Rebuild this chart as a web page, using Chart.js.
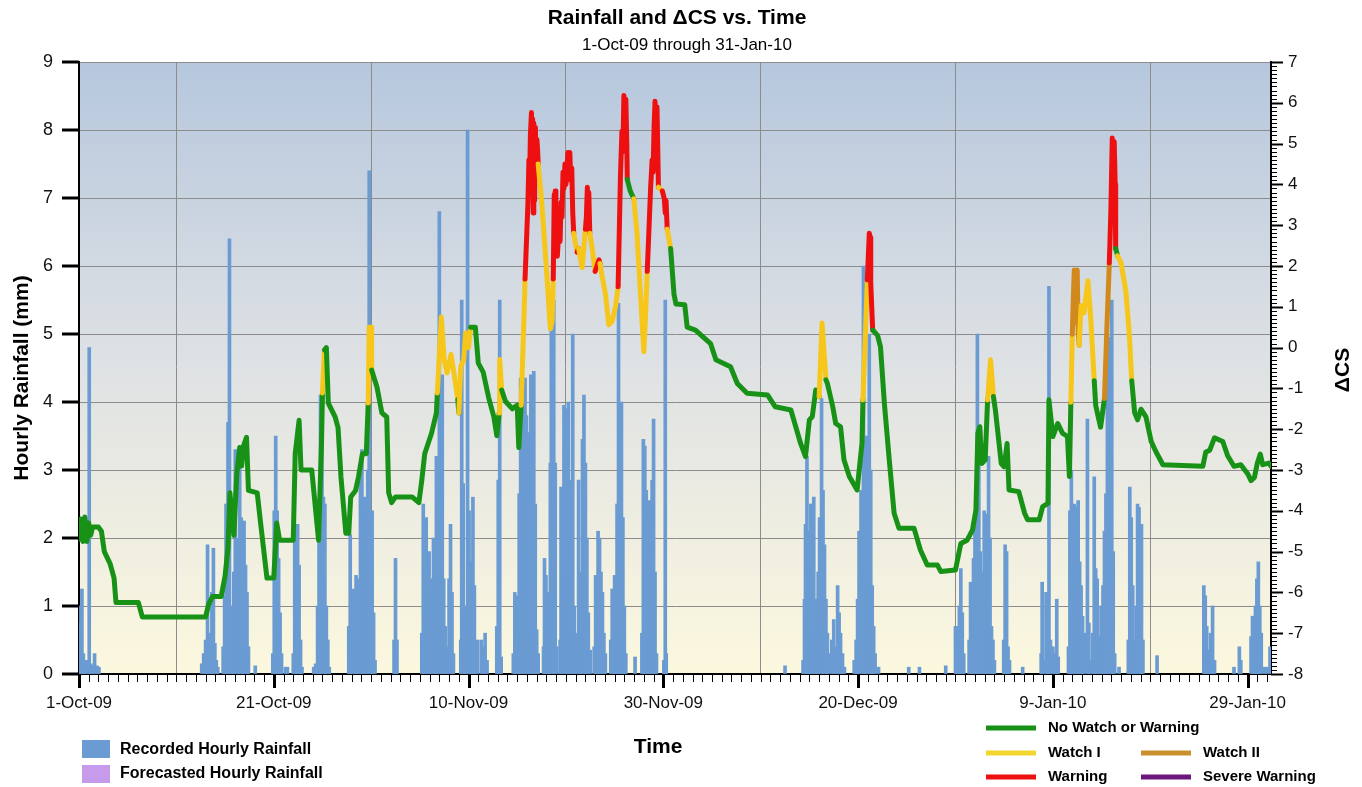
<!DOCTYPE html>
<html>
<head>
<meta charset="utf-8">
<script src="https://cdn.jsdelivr.net/npm/chart.js@4.4.0/dist/chart.umd.min.js"></script>
<style>
  html, body { margin: 0; padding: 0; background: #fff; }
  #wrap { width: 1362px; height: 787px; position: relative; }
</style>
</head>
<body>
<div id="wrap"><canvas id="chart"></canvas></div>
<script>
// x values are days since 1-Oct-09 00:00
var dateTickDays = [0, 20, 40, 60, 80, 100, 120];
var dateTickLabels = ['1-Oct-09', '21-Oct-09', '10-Nov-09', '30-Nov-09', '20-Dec-09', '9-Jan-10', '29-Jan-10'];

// recorded hourly rainfall, [day, mm]
var rainfall = [
  [0.1,0.75],[0.2,1.0],[0.3,1.25],[0.45,0.3],[0.6,0.15],[0.8,0.2],[1.05,4.8],[1.2,0.15],[1.35,0.12],[1.6,0.3],[1.85,0.12],[2.05,0.1],
  [12.6,0.15],[12.8,0.3],[13.0,0.5],[13.2,1.9],[13.35,0.6],[13.5,0.35],[13.65,1.2],[13.8,1.85],[13.95,0.45],[14.1,0.2],[14.25,0.1],
  [14.8,0.4],[14.95,1.15],[15.1,2.5],[15.3,3.7],[15.45,6.4],[15.6,1.0],[15.75,0.6],[15.9,1.5],[16.05,3.3],[16.2,2.0],[16.35,1.9],
  [16.5,3.35],[16.65,2.3],[16.8,1.7],[16.95,2.25],[17.1,1.6],[17.25,1.2],[17.4,0.4],[18.1,0.12],
  [19.9,0.3],[20.05,2.4],[20.2,3.5],[20.35,2.4],[20.5,1.7],[20.65,0.9],[20.8,0.3],[21.2,0.1],[21.4,0.1],
  [22.0,0.3],[22.15,2.2],[22.3,1.4],[22.45,2.2],[22.6,1.6],[22.75,0.5],[22.9,0.1],
  [24.1,0.1],[24.3,0.15],[24.5,1.0],[24.65,2.5],[24.8,4.1],[24.95,4.0],[25.1,2.6],[25.25,2.5],[25.4,1.0],[25.55,0.5],[25.7,0.1],
  [27.7,0.7],[27.85,2.05],[28.0,1.2],[28.15,1.25],[28.3,0.5],[28.45,1.45],[28.6,0.5],[28.75,1.4],[28.9,2.85],[29.05,3.3],
  [29.2,1.0],[29.35,2.6],[29.5,2.4],[29.65,3.0],[29.8,7.4],[29.95,2.4],[30.1,2.4],[30.25,0.9],[30.4,0.2],
  [32.35,0.5],[32.5,1.7],[32.65,0.5],
  [35.2,0.6],[35.35,2.5],[35.5,2.2],[35.65,2.3],[35.8,1.6],[35.95,1.8],[36.1,1.4],[36.25,1.2],[36.4,2.0],[36.55,1.5],
  [36.7,3.2],[36.85,2.2],[37.0,6.8],[37.15,1.4],[37.3,4.4],[37.45,1.4],[37.6,0.7],[37.8,0.4],[38.0,1.4],[38.15,2.2],[38.3,1.2],[38.45,0.3],
  [39.2,0.5],[39.3,5.5],[39.45,2.8],[39.6,0.4],[39.75,1.0],[39.9,8.0],[40.05,2.4],[40.2,1.65],[40.35,1.6],[40.45,2.6],[40.6,1.3],
  [40.75,0.4],[40.9,0.5],[41.3,0.5],[41.5,0.4],[41.7,0.6],[41.9,0.2],
  [42.9,0.7],[43.05,2.85],[43.2,5.5],[43.35,0.25],
  [44.6,0.3],[44.75,1.2],[44.9,0.5],[45.05,1.15],[45.2,2.65],[45.35,4.35],[45.5,4.0],[45.65,3.85],[45.8,4.35],[45.95,3.8],
  [46.1,3.5],[46.25,3.55],[46.4,4.4],[46.55,3.0],[46.7,4.45],[46.85,2.5],[47.0,0.65],[47.15,0.3],
  [47.7,0.4],[47.8,1.7],[47.95,1.45],[48.1,0.85],[48.25,1.2],[48.4,3.1],[48.5,5.15],[48.65,3.6],[48.75,5.5],[48.9,3.1],[49.05,0.4],
  [49.4,0.5],[49.5,2.75],[49.65,1.5],[49.8,3.95],[49.95,3.1],[50.1,3.9],[50.25,4.0],[50.4,2.85],[50.55,1.8],[50.7,5.0],[50.85,1.0],[51.0,0.5],
  [51.2,0.6],[51.3,2.85],[51.45,0.8],[51.6,1.5],[51.7,3.45],[51.85,4.1],[52.0,3.1],[52.15,2.0],[52.3,0.9],[52.5,0.35],
  [52.9,0.4],[53.05,1.45],[53.2,1.0],[53.3,2.1],[53.45,2.0],[53.6,1.5],[53.75,1.2],[53.9,0.6],[54.05,0.3],
  [54.6,0.5],[54.75,1.25],[54.9,0.6],[55.0,1.45],[55.15,0.8],[55.25,2.5],[55.4,5.45],[55.55,3.9],[55.7,4.0],[55.85,2.3],[56.0,1.0],[56.15,0.3],
  [57.1,0.25],
  [57.8,0.6],[57.95,3.45],[58.1,3.35],[58.25,2.7],[58.4,2.0],[58.55,2.55],[58.7,2.05],[58.85,2.85],[59.0,3.75],[59.15,1.5],[59.3,0.3],
  [60.05,0.2],[60.2,5.5],[60.3,0.3],
  [72.5,0.12],
  [74.35,0.2],[74.5,1.1],[74.6,2.2],[74.75,3.2],[74.85,2.1],[75.0,1.6],[75.15,2.5],[75.3,1.6],[75.45,2.6],[75.6,1.1],[75.75,0.6],
  [75.9,1.5],[76.05,2.3],[76.25,4.05],[76.4,2.7],[76.55,1.9],[76.7,1.1],[76.85,0.6],[77.0,0.3],[77.3,0.5],[77.5,0.8],[77.7,0.4],
  [77.9,1.3],[78.05,0.9],[78.2,0.6],[78.4,0.3],[78.6,0.1],
  [79.6,0.2],[79.8,0.5],[79.95,1.1],[80.1,2.1],[80.3,2.7],[80.55,6.0],[80.7,2.9],[80.85,3.5],[81.0,3.3],[81.15,5.0],[81.3,3.0],
  [81.45,1.3],[81.6,0.7],[81.75,0.3],
  [82.1,0.1],[85.2,0.1],[86.3,0.1],[89.0,0.12],
  [90.0,0.7],[90.2,0.7],[90.4,1.0],[90.55,1.55],[90.7,0.9],[90.85,0.3],
  [91.4,0.5],[91.55,1.35],[91.7,1.05],[91.85,1.7],[92.0,2.2],[92.15,1.3],[92.25,5.0],[92.4,3.65],[92.55,1.8],[92.7,0.8],
  [92.85,1.5],[92.95,2.4],[93.1,2.35],[93.25,1.6],[93.4,3.2],[93.55,2.0],[93.7,0.7],[93.85,0.5],[94.0,0.2],
  [94.95,0.5],[95.1,1.9],[95.25,1.8],[95.4,0.4],[95.55,0.2],[96.9,0.1],
  [98.8,0.3],[98.9,1.35],[99.05,0.2],[99.3,1.2],[99.45,0.4],[99.6,5.7],[99.75,0.5],[100.0,0.4],[100.2,0.3],[100.4,1.1],[100.55,0.25],
  [101.6,0.4],[101.75,2.4],[101.9,3.0],[102.0,2.4],[102.1,1.5],[102.2,2.5],[102.3,2.2],[102.45,2.45],[102.6,2.55],[102.75,1.65],
  [102.9,1.3],[103.05,0.85],[103.25,0.6],[103.55,3.75],[103.7,0.75],[103.85,0.2],[104.1,0.6],[104.25,2.9],[104.4,1.55],[104.55,1.4],
  [104.75,0.55],[104.95,1.0],[105.15,1.3],[105.3,2.1],[105.45,2.65],[105.6,4.3],[105.75,4.95],[105.9,4.15],[106.05,5.5],[106.2,1.8],[106.35,0.3],
  [106.8,0.1],
  [107.75,0.5],[107.9,2.75],[108.05,2.3],[108.2,1.3],[108.35,0.5],[108.55,1.0],[108.7,2.5],[108.85,2.45],[109.0,0.8],[109.1,2.2],[109.25,0.5],
  [110.7,0.27],
  [115.5,1.3],[115.65,1.15],[115.8,0.7],[116.0,0.35],[116.2,0.6],[116.4,1.0],[116.6,0.2],
  [118.6,0.1],[119.15,0.4],[119.3,0.2],
  [120.35,0.55],[120.5,0.85],[120.65,0.8],[120.8,1.0],[120.95,1.4],[121.1,1.65],[121.25,1.0],[121.4,0.6],
  [121.7,0.1],[122.0,0.1],[122.3,0.4]
];

// delta CS, [day, value, status]  G = no watch, Y = watch I, O = watch II, R = warning
var deltaCS = [
  [0.0,-4.7,'G'],[0.2,-4.2,'G'],[0.4,-4.75,'G'],[0.6,-4.15,'G'],[0.8,-4.75,'G'],[1.0,-4.3,'G'],[1.2,-4.6,'G'],[1.4,-4.4,'G'],
  [2.0,-4.4,'G'],[2.3,-4.5,'G'],[2.6,-5.0,'G'],[3.2,-5.3,'G'],[3.6,-5.65,'G'],[3.8,-6.25,'G'],[6.1,-6.25,'G'],[6.5,-6.6,'G'],
  [13.0,-6.6,'G'],[13.3,-6.3,'G'],[13.7,-6.1,'G'],[14.6,-6.1,'G'],[15.0,-5.6,'G'],[15.3,-4.9,'G'],[15.5,-3.56,'G'],[15.7,-4.1,'G'],
  [15.9,-4.6,'G'],[16.2,-3.1,'G'],[16.5,-2.45,'G'],[16.7,-2.9,'G'],[16.9,-2.4,'G'],[17.2,-2.2,'G'],[17.4,-3.5,'G'],[18.3,-3.56,'G'],
  [18.6,-4.2,'G'],[19.3,-5.65,'G'],[20.0,-5.65,'G'],[20.3,-4.3,'G'],[20.6,-4.72,'G'],[22.0,-4.72,'G'],[22.2,-2.6,'G'],[22.6,-1.78,'G'],
  [22.8,-3.0,'G'],[23.9,-3.0,'G'],[24.6,-4.72,'G'],[24.9,-2.34,'G'],[25.0,-1.11,'G'],[25.2,-0.06,'Y'],[25.4,0.0,'G'],[25.6,-1.36,'G'],
  [26.3,-1.7,'G'],[26.6,-1.96,'G'],[26.9,-3.17,'G'],[27.4,-4.55,'G'],[27.7,-4.55,'G'],[27.9,-3.66,'G'],[28.4,-3.5,'G'],[28.7,-3.17,'G'],
  [29.1,-2.6,'G'],[29.5,-2.6,'G'],[29.7,-1.36,'G'],[29.8,0.5,'Y'],[30.0,0.5,'Y'],[30.05,-0.55,'Y'],[30.6,-0.97,'G'],[31.1,-1.6,'G'],
  [31.6,-1.7,'G'],[31.8,-3.56,'G'],[32.1,-3.8,'G'],[32.5,-3.66,'G'],[34.2,-3.66,'G'],[34.9,-3.8,'G'],[35.2,-3.25,'G'],[35.5,-2.6,'G'],
  [36.2,-2.1,'G'],[36.7,-1.6,'G'],[36.8,-1.11,'G'],[37.2,0.75,'Y'],[37.5,-0.3,'Y'],[37.8,-0.62,'Y'],[38.2,-0.17,'Y'],[38.5,-0.62,'Y'],
  [38.9,-1.28,'Y'],[39.0,-1.6,'G'],[39.2,-0.47,'Y'],[39.5,-0.3,'Y'],[39.7,0.36,'Y'],[40.0,0.0,'Y'],[40.2,0.5,'Y'],[40.7,0.5,'G'],
  [41.0,-0.38,'G'],[41.5,-0.6,'G'],[42.07,-1.23,'G'],[42.6,-1.7,'G'],[42.9,-2.16,'G'],[43.15,-1.6,'G'],[43.2,-0.29,'Y'],[43.4,-1.04,'Y'],
  [43.8,-1.32,'G'],[44.5,-1.5,'G'],[45.0,-1.41,'G'],[45.16,-2.45,'G'],[45.4,-1.41,'G'],[45.67,0.56,'Y'],[45.8,1.68,'Y'],[46.1,3.56,'R'],
  [46.2,4.6,'R'],[46.25,3.8,'R'],[46.35,5.2,'R'],[46.46,5.76,'R'],[46.52,4.2,'R'],[46.58,5.6,'R'],[46.64,3.3,'R'],[46.7,5.5,'R'],
  [46.78,3.6,'R'],[46.86,5.4,'R'],[46.94,4.4,'R'],[47.02,5.1,'R'],[47.1,4.8,'R'],[47.15,4.5,'R'],
  [47.55,3.46,'Y'],[48.07,1.68,'Y'],[48.4,0.46,'Y'],[48.58,0.65,'Y'],[48.7,1.68,'Y'],[48.8,3.75,'R'],[48.85,3.2,'R'],[48.9,3.84,'R'],
  [48.97,2.5,'R'],[49.05,3.3,'R'],[49.12,2.24,'R'],[49.3,3.0,'R'],[49.4,2.6,'R'],[49.5,3.56,'R'],[49.6,3.2,'R'],[49.7,4.3,'R'],
  [49.8,3.9,'R'],[49.9,4.5,'R'],[50.0,4.0,'R'],[50.1,4.3,'R'],[50.2,4.78,'R'],[50.3,4.5,'R'],[50.4,4.78,'R'],[50.5,4.1,'R'],
  [50.6,4.4,'R'],[50.7,3.3,'R'],[50.8,2.8,'R'],[51.15,2.34,'Y'],
  [51.3,2.43,'R'],[51.67,1.96,'Y'],[52.0,2.9,'Y'],[52.1,3.2,'R'],[52.2,3.93,'R'],[52.3,3.0,'R'],[52.35,3.8,'R'],[52.45,2.8,'R'],
  [52.7,2.43,'Y'],[53.0,1.87,'Y'],[53.4,2.15,'R'],
  [53.5,2.06,'R'],[53.7,1.77,'Y'],[54.07,1.3,'Y'],[54.4,0.56,'Y'],[54.75,0.65,'Y'],[55.1,1.02,'Y'],[55.36,1.49,'Y'],[55.6,4.21,'R'],
  [55.75,5.3,'R'],[55.85,4.8,'R'],[55.95,6.18,'R'],[56.05,5.5,'R'],[56.15,6.09,'R'],[56.25,5.0,'R'],[56.3,4.12,'R'],
  [56.6,3.84,'G'],[56.97,3.65,'G'],[57.3,2.8,'Y'],[57.66,1.3,'Y'],[58.0,-0.1,'Y'],
  [58.2,0.93,'Y'],[58.35,1.87,'Y'],[58.7,3.93,'R'],[58.85,4.6,'R'],[58.95,4.3,'R'],[59.05,5.4,'R'],[59.15,6.04,'R'],[59.25,5.3,'R'],
  [59.35,5.9,'R'],[59.45,4.6,'R'],[59.5,3.93,'R'],[59.9,3.84,'Y'],
  [60.1,3.65,'R'],[60.2,3.3,'R'],[60.28,3.6,'R'],[60.4,2.9,'R'],[60.75,2.43,'Y'],[61.1,1.3,'G'],[61.3,1.07,'G'],[62.2,1.05,'G'],[62.45,0.5,'G'],[63.3,0.43,'G'],
  [64.85,0.1,'G'],[65.4,-0.3,'G'],[66.2,-0.39,'G'],[66.9,-0.47,'G'],[67.6,-0.88,'G'],[68.6,-1.12,'G'],[70.7,-1.16,'G'],[71.5,-1.45,'G'],
  [73.1,-1.53,'G'],[73.6,-1.94,'G'],[74.1,-2.35,'G'],[74.6,-2.67,'G'],[75.0,-1.77,'G'],[75.3,-1.69,'G'],[75.65,-1.04,'G'],[76.0,-1.2,'G'],
  [76.3,0.6,'Y'],[76.7,-0.79,'Y'],[76.85,-0.88,'G'],[77.4,-1.45,'G'],[77.7,-1.86,'G'],[78.2,-1.94,'G'],[78.55,-2.75,'G'],[79.1,-3.16,'G'],
  [79.9,-3.49,'G'],[80.4,-2.35,'G'],[80.5,-1.28,'G'],[80.95,1.66,'Y'],[81.15,2.8,'R'],[81.25,2.7,'R'],[81.3,1.6,'R'],[81.4,1.0,'R'],[81.5,0.43,'R'],[82.0,0.3,'G'],
  [82.3,0.02,'G'],[82.7,-1.37,'G'],[83.2,-2.75,'G'],[83.7,-4.06,'G'],[84.2,-4.43,'G'],[85.75,-4.43,'G'],[86.4,-4.96,'G'],[87.1,-5.33,'G'],
  [88.15,-5.33,'G'],[88.5,-5.49,'G'],[90.0,-5.45,'G'],[90.55,-4.8,'G'],[91.2,-4.72,'G'],[91.75,-4.47,'G'],[92.1,-3.98,'G'],[92.3,-2.1,'G'],
  [92.5,-1.94,'G'],[92.7,-2.84,'G'],[93.05,-2.75,'G'],[93.3,-1.28,'G'],[93.6,-0.3,'Y'],[93.9,-1.2,'Y'],[94.1,-1.53,'G'],[94.7,-2.84,'G'],
  [95.0,-2.92,'G'],[95.3,-2.35,'G'],[95.5,-3.49,'G'],[96.5,-3.53,'G'],[97.1,-4.06,'G'],[97.4,-4.22,'G'],[98.6,-4.22,'G'],[98.95,-3.9,'G'],
  [99.5,-3.82,'G'],[99.6,-1.28,'G'],[100.0,-2.18,'G'],[100.5,-1.86,'G'],[101.0,-2.1,'G'],[101.5,-2.18,'G'],[101.7,-3.16,'G'],[101.85,-1.34,'G'],
  [102.0,0.33,'Y'],[102.1,1.2,'O'],[102.2,1.9,'O'],[102.3,0.6,'O'],[102.4,1.5,'O'],[102.5,1.9,'O'],[102.6,0.4,'O'],[102.7,0.06,'O'],
  [102.9,1.03,'Y'],[103.2,0.85,'Y'],[103.6,1.64,'Y'],
  [103.9,0.68,'Y'],[104.25,-0.81,'Y'],[104.4,-1.42,'G'],[104.9,-1.95,'G'],[105.3,-1.25,'G'],[105.55,0.5,'O'],[105.8,2.08,'O'],[105.96,3.39,'R'],
  [106.1,5.14,'R'],[106.2,3.6,'R'],[106.3,5.05,'R'],[106.4,4.0,'R'],[106.45,2.43,'R'],[106.65,2.25,'G'],[107.0,2.08,'Y'],[107.5,1.38,'Y'],[107.85,0.33,'Y'],[108.1,-0.81,'Y'],
  [108.4,-1.6,'G'],[108.7,-1.77,'G'],[109.05,-1.51,'G'],[109.55,-1.69,'G'],[110.1,-2.3,'G'],[110.6,-2.56,'G'],[111.3,-2.87,'G'],[115.4,-2.91,'G'],
  [115.7,-2.56,'G'],[116.1,-2.52,'G'],[116.6,-2.21,'G'],[117.45,-2.3,'G'],[117.95,-2.65,'G'],[118.6,-2.91,'G'],[119.3,-2.87,'G'],[120.0,-3.09,'G'],
  [120.35,-3.26,'G'],[120.7,-3.18,'G'],[121.0,-2.83,'G'],[121.3,-2.61,'G'],[121.55,-2.87,'G'],[122.2,-2.83,'G'],[122.4,-2.91,'G']
];

var statusColors = { G: '#179217', Y: '#f6c61a', O: '#d1891c', R: '#ee1010', P: '#6d177d' };
var FONT = '"Liberation Sans", Arial, Helvetica, sans-serif';
var xMax = 122.4;

// plot background: blue-grey at the top fading into cream
var backdrop = {
  id: 'backdrop',
  beforeDraw: function (chart) {
    var ctx = chart.ctx, a = chart.chartArea;
    ctx.save();
    ctx.fillStyle = '#fff';
    ctx.fillRect(0, 0, chart.width, chart.height);
    var g = ctx.createLinearGradient(0, a.top, 0, a.bottom);
    g.addColorStop(0, '#b6c7dd');
    g.addColorStop(0.5, '#dfe2e4');
    g.addColorStop(1, '#fcf8de');
    ctx.fillStyle = g;
    ctx.fillRect(a.left, a.top, a.right - a.left, a.bottom - a.top);
    ctx.restore();
  }
};

// tick marks, minor and major
var tickMarks = {
  id: 'tickMarks',
  afterDraw: function (chart) {
    var ctx = chart.ctx, a = chart.chartArea, s = chart.scales;
    ctx.save();
    ctx.strokeStyle = '#000';
    function seg(x1, y1, x2, y2, w) {
      ctx.lineWidth = w;
      ctx.beginPath(); ctx.moveTo(x1, y1); ctx.lineTo(x2, y2); ctx.stroke();
    }
    for (var d = 0; d <= 122; d++) {
      var px = Math.round(s.x.getPixelForValue(d)) + 0.5;
      if (d % 20 === 0) seg(px, a.bottom, px, a.bottom + 14, 3);
      else seg(px, a.bottom, px, a.bottom + 8, 1);
    }
    for (var v = 0; v <= 9; v++) {
      var py = s.y.getPixelForValue(v);
      seg(a.left - 17, py, a.left, py, 3);
    }
    for (var t = -80; t <= 70; t++) {
      var qy = Math.round(s.y2.getPixelForValue(t / 10)) + 0.5;
      if (t % 10 === 0) seg(a.right, qy, a.right + 12, qy, 2);
      else seg(a.right, qy, a.right + 6, qy, 1);
    }
    ctx.restore();
  }
};

// titles, axis titles and the two legend blocks
var captions = {
  id: 'captions',
  afterDraw: function (chart) {
    var ctx = chart.ctx;
    ctx.save();
    ctx.fillStyle = '#000';
    ctx.textAlign = 'center';
    ctx.textBaseline = 'middle';
    ctx.font = 'bold 21px ' + FONT;
    ctx.fillText('Rainfall and \u0394CS vs. Time', 677, 18);
    ctx.font = '17px ' + FONT;
    ctx.fillText('1-Oct-09 through 31-Jan-10', 687, 45);
    ctx.font = 'bold 21px ' + FONT;
    ctx.fillText('Time', 658, 747);

    ctx.save();
    ctx.translate(22, 378);
    ctx.rotate(-Math.PI / 2);
    ctx.fillText('Hourly Rainfall (mm)', 0, 0);
    ctx.restore();
    ctx.save();
    ctx.translate(1343, 370);
    ctx.rotate(-Math.PI / 2);
    ctx.fillText('\u0394CS', 0, 0);
    ctx.restore();

    // left legend
    ctx.textAlign = 'left';
    ctx.font = 'bold 16px ' + FONT;
    ctx.fillStyle = '#6a9bd2';
    ctx.fillRect(82, 740, 28, 18);
    ctx.fillStyle = '#c79bec';
    ctx.fillRect(82, 765, 28, 18);
    ctx.fillStyle = '#000';
    ctx.fillText('Recorded Hourly Rainfall', 120, 750);
    ctx.fillText('Forecasted Hourly Rainfall', 120, 774);

    // right legend
    var items = [
      ['No Watch or Warning', statusColors.G, 986, 728],
      ['Watch I', '#f2d52e', 986, 753],
      ['Watch II', '#c8912c', 1141, 753],
      ['Warning', statusColors.R, 986, 777],
      ['Severe Warning', statusColors.P, 1141, 777]
    ];
    ctx.font = 'bold 15px ' + FONT;
    items.forEach(function (it) {
      ctx.fillStyle = it[1];
      ctx.fillRect(it[2], it[3] - 2.5, 50, 5);
      ctx.fillStyle = '#000';
      ctx.fillText(it[0], it[2] + 62, it[3]);
    });
    ctx.restore();
  }
};

var ctx = document.getElementById('chart').getContext('2d');
var chart = new Chart(ctx, {
  type: 'bar',
  data: {
    datasets: [
      {
        type: 'line',
        label: '\u0394CS',
        data: deltaCS.map(function (p) { return { x: p[0], y: p[1] }; }),
        xAxisID: 'x',
        yAxisID: 'y2',
        borderColor: statusColors.G,
        borderWidth: 5,
        borderJoinStyle: 'round',
        borderCapStyle: 'round',
        pointRadius: 0,
        tension: 0,
        order: 1,
        segment: {
          borderColor: function (c) { return statusColors[deltaCS[c.p1DataIndex][2]]; }
        }
      },
      {
        type: 'bar',
        label: 'Recorded Hourly Rainfall',
        data: rainfall.map(function (p) { return { x: p[0], y: p[1] }; }),
        xAxisID: 'x',
        yAxisID: 'y',
        backgroundColor: '#6a9bd2',
        barThickness: 3,
        order: 2
      }
    ]
  },
  options: {
    responsive: true,
    maintainAspectRatio: false,
    animation: false,
    layout: { padding: { top: 62, left: 0, right: 0, bottom: 0 } },
    plugins: {
      legend: { display: false },
      tooltip: { enabled: false },
      title: { display: false }
    },
    scales: {
      x: {
        type: 'linear',
        min: 0,
        max: xMax,
        offset: false,
        afterBuildTicks: function (s) { s.ticks = dateTickDays.map(function (v) { return { value: v }; }); },
        afterFit: function (s) { s.height = 113; },
        ticks: {
          autoSkip: false,
          maxRotation: 0,
          padding: 19,
          color: '#111',
          font: { family: FONT, size: 17 },
          callback: function (v, i) { return dateTickLabels[i]; }
        },
        grid: { color: '#8c8c8c', lineWidth: 1, drawTicks: false },
        border: { color: '#000', width: 2 }
      },
      y: {
        position: 'left',
        min: 0,
        max: 9,
        afterFit: function (s) { s.width = 79; },
        ticks: { stepSize: 1, padding: 26, color: '#111', font: { family: FONT, size: 18 } },
        grid: { color: '#8c8c8c', lineWidth: 1, drawTicks: false },
        border: { color: '#000', width: 2 }
      },
      y2: {
        position: 'right',
        min: -8,
        max: 7,
        afterFit: function (s) { s.width = 91; },
        ticks: { stepSize: 1, padding: 17, color: '#111', font: { family: FONT, size: 17 } },
        grid: { drawOnChartArea: false, drawTicks: false },
        border: { color: '#000', width: 2 }
      }
    }
  },
  plugins: [backdrop, tickMarks, captions]
});
</script>
</body>
</html>
